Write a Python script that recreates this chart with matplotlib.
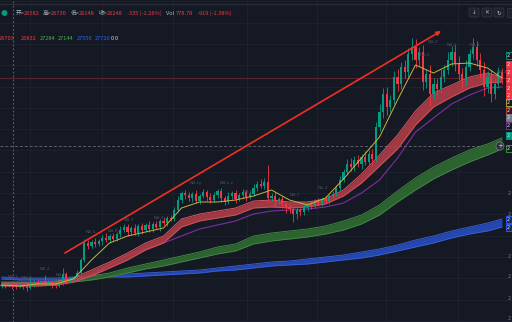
import numpy as np
import matplotlib.pyplot as plt
from matplotlib.patches import Rectangle, FancyBboxPatch, Circle

W, H = 512, 322
BG = "#151924"
GRID = "#1f2330"
UP = "#089981"
DOWN = "#f23645"
GRAY = "#b2b5be"
CJK = ["Noto Sans CJK SC", "DejaVu Sans"]

# candles, price units (open = previous close)
first_open = 36
close = [37, 36, 38, 36, 35, 37,
         35, 34, 37,
         40, 39, 41, 38, 40,
         37, 36, 38,
         48,
         41, 43,
         45, 49,
         62,
         79,
         76, 80, 78, 81,
         84, 82, 86, 83,
         88, 92, 95,
         90, 94, 89, 96, 92, 97, 93,
         98, 95, 101, 99, 104, 103,
         112, 122, 129, 127,
         124, 128, 121, 126, 130, 125, 122, 127, 131, 124, 120, 126, 129, 123, 127, 130, 125, 128,
         134, 138, 136, 140,
         124,
         126, 121, 123, 118, 115, 113,
         108, 112, 110,
         115, 118, 116, 121, 119,
         123, 121, 126, 128,
         134, 142, 150, 158, 155,
         162, 158, 165, 160, 168, 163,
         195, 210, 228, 215,
         222,
         245, 238, 255, 250,
         268, 275, 262, 270,
         240, 248, 228,
         238, 233, 245,
         252, 262, 270, 258,
         248, 242, 255,
         268, 275, 262, 252,
         235, 245, 228,
         238, 250, 244]
wick_up = [2, 1, 2, 1, 3, 2, 1, 2, 8, 2, 3, 1, 6, 2, 1, 2, 2,
           6,
           2, 2, 1, 3,
           2, 4,
           3, 2, 4, 2, 3, 5, 2, 3,
           2, 4, 3,
           3, 2, 4, 2, 3, 2, 4,
           2, 3, 2, 4, 2, 3,
           3, 4, 2, 3,
           3, 2, 4, 2, 3, 2, 4, 3, 2, 3, 2, 4, 2, 3, 2, 3, 2, 3,
           4, 3, 5, 4,
           17,
           3, 4, 2, 3, 2, 3,
           2, 3, 2,
           3, 2, 3, 2, 3,
           2, 3, 2, 3,
           3, 4, 3, 5, 6,
           4, 5, 3, 6, 4, 5,
           5, 8, 6, 7,
           5,
           6, 8, 5, 7,
           6, 9, 8, 5,
           7, 5, 9,
           6, 5, 8,
           5, 8, 6, 7,
           8, 6, 7,
           5, 9, 6, 7,
           8, 6, 7,
           6, 5, 4]
wick_dn = [2, 2, 1, 3, 2, 1, 2, 3, 1, 2, 1, 3, 2, 1, 3, 2, 1,
           1,
           3, 2, 2, 1,
           1, 2,
           3, 2, 3, 2, 4, 2, 3, 2,
           2, 3, 2,
           4, 3, 2, 3, 4, 2, 3,
           3, 2, 4, 2, 3, 2,
           2, 2, 3, 4,
           3, 4, 2, 3, 2, 4, 3, 2, 3, 4, 3, 2, 3, 4, 2, 3, 4, 2,
           2, 3, 2, 3,
           4,
           3, 5, 3, 4, 6, 4,
           8, 5, 4,
           3, 4, 3, 2, 3,
           3, 2, 3, 2,
           2, 3, 2, 3, 4,
           4, 3, 5, 3, 4, 6,
           3, 4, 6, 8,
           5,
           4, 7, 5, 6,
           5, 6, 8, 6,
           8, 6, 12,
           5, 6, 4,
           5, 4, 6, 7,
           6, 8, 5,
           4, 5, 6, 8,
           9, 6, 8,
           5, 4, 6]

# moving averages, sampled every 5 candles
ma_idx = list(range(0, 140, 5)) + [139]
ma_fast = [37, 36, 38, 38, 43, 62, 79, 86, 90, 94,
           114, 120, 120, 122, 126, 132, 122, 117, 124, 143,
           164, 185, 222, 257, 249, 258, 259, 254, 244]
red_top = [39, 39, 39, 40, 44, 52, 60, 69, 79, 86,
           103, 108, 111, 114, 121, 122, 120, 120, 123, 132,
           148, 167, 187, 211, 229, 237, 245, 249, 245]
red_bot = [36, 36, 36, 37, 40, 46, 54, 62, 72, 79,
           95, 101, 104, 107, 114, 115, 114, 115, 118, 126,
           139, 156, 173, 197, 215, 225, 234, 239, 240]
ma_purple = [38, 37, 37, 37, 40, 47, 57, 67, 73, 79,
             86, 93, 97, 101, 108, 111, 112, 113, 115, 119,
             129, 142, 164, 190, 204, 218, 227, 234, 235]
green_top = [40, 40, 40, 41, 43, 46, 49, 54, 58, 62,
             66, 70, 75, 78, 86, 89, 91, 93, 96, 101,
             107, 117, 131, 144, 155, 164, 172, 178, 184]
green_bot = [37, 37, 37, 38, 40, 42, 45, 49, 53, 56,
             60, 64, 68, 71, 78, 81, 83, 85, 88, 92,
             98, 107, 120, 132, 143, 152, 160, 167, 173]
blue_top = [45, 44, 44, 44, 45, 46, 47, 48, 49, 50,
            51, 52, 54, 56, 58, 60, 61, 63, 65, 67,
            70, 73, 77, 82, 86, 91, 95, 99, 103]
blue_bot = [43, 42, 42, 42, 43, 44, 45, 45, 46, 47,
            48, 49, 51, 52, 54, 56, 57, 58, 60, 62,
            64, 67, 71, 75, 79, 84, 88, 91, 95]

# trend line drawing (candle index, price)
trend_x = [17.6, 122.1]
trend_y = [69, 291]

header_row1 = [(16, "开=", GRAY), (24, "26582", DOWN), (43, "高=", GRAY), (51, "26730", DOWN),
               (71, "低=", GRAY), (79, "26148", DOWN), (99, "收=", GRAY), (107, "26248", DOWN),
               (127, "-335 (-1.26%)", DOWN), (166, "Vol", GRAY), (176, "778.78", DOWN),
               (197, "-919 (-1.38%)", DOWN)]
header_row2 = [(-1, "26703", DOWN), (21, "26832", DOWN), (40, "27284", "#4caf50"),
               (58, "27144", "#4caf50"), (77, "27556", "#2962ff"), (95, "27720", "#2962ff"),
               (111, "0", "#d1d4dc"), (115, "0", "#d1d4dc")]

nb_labels = [(8, 277, "NB-1"), (22, 278, "NB-2"), (40, 269, "NB-2"), (56, 275, "NB-?"),
             (86, 232, "NB-5"), (108, 231, "NB-R"), (124, 220, "NB-7"), (154, 218, "NB-7"),
             (190, 183, "NB-Ly"), (220, 183, "NB-L.z"), (243, 192, "NB-?"), (290, 195, "NB-?"),
             (318, 188, "NB-2"), (420, 55, "NB-2"), (428, 42, "NB-2"), (447, 45, "NB-2"),
             (470, 45, "NB-1"), (497, 72, "NB-2")]

right_tags = [(55, BG, UP), (64, DOWN, DOWN), (72, DOWN, DOWN), (80, DOWN, DOWN), (88, DOWN, DOWN),
              (95, DOWN, DOWN), (102, BG, "#c9b83a"), (110, "#3a1a20", DOWN), (117, "#787b86", "#787b86"),
              (125, BG, "#7e2f9e"), (135, UP, UP), (148, BG, "#43a047"),
              (219, "#1a2a5a", "#2962ff"), (227, "#1a2a5a", "#2962ff")]


def px2x(px):
    return (px - 1.5) / 3.6


fig = plt.figure(figsize=(W / 100, H / 100), dpi=100, facecolor=BG)
ax = fig.add_axes([0, 0, 1, 1], facecolor=BG)
ax.set_xlim(px2x(0), px2x(W))
ax.set_ylim(0, H)
ax.axis("off")

# grid
for h in np.arange(1.2, H, 21.3):
    ax.axhline(h, color=GRID, lw=0.6, zorder=0)
for px in [30, 102, 173, 247, 317, 386, 458]:
    ax.axvline(px2x(px), color=GRID, lw=0.6, zorder=0)

# last price line
ax.axhline(close[-1], color="#5a2630", lw=0.7, zorder=1)

# bands and averages
ax.fill_between(ma_idx, blue_bot, blue_top, color="#2447b0", lw=0, zorder=2)
ax.plot(ma_idx, blue_top, color="#3b63e0", lw=0.6, zorder=2)
ax.plot(ma_idx, blue_bot, color="#3b63e0", lw=0.5, zorder=2)
ax.fill_between(ma_idx, green_bot, green_top, color="#2c632f", lw=0, zorder=2)
ax.plot(ma_idx, green_top, color="#45904a", lw=0.6, zorder=2)
ax.plot(ma_idx, green_bot, color="#45904a", lw=0.5, zorder=2)
ax.plot(ma_idx, ma_purple, color="#7e2f9e", lw=0.8, zorder=2)
ax.fill_between(ma_idx, red_bot, red_top, color="#b8404a", alpha=0.85, lw=0, zorder=2)
ax.plot(ma_idx, red_top, color="#e86068", lw=0.6, zorder=2)
ax.plot(ma_idx, red_bot, color="#d85058", lw=0.6, zorder=2)

# candles
x = np.arange(len(close))
closes = np.array(close, dtype=float)
opens = np.array([first_open] + close[:-1], dtype=float)
highs = np.maximum(opens, closes) + np.array(wick_up)
lows = np.minimum(opens, closes) - np.array(wick_dn)
colors = np.where(closes >= opens, UP, DOWN)
ax.vlines(x, lows, highs, colors=colors, lw=0.6, zorder=3)
body = np.maximum(np.abs(closes - opens), 0.8)
ax.bar(x, body, bottom=np.minimum(opens, closes), width=0.62, color=colors, lw=0, zorder=3)

ax.plot(ma_idx, ma_fast, color="#c8b43c", lw=0.7, zorder=4)

# trend arrow
ax.annotate("", xy=(trend_x[1], trend_y[1]), xytext=(trend_x[0], trend_y[0]),
            arrowprops=dict(arrowstyle="-|>", color="#f22f22", lw=1.2,
                            mutation_scale=6, shrinkA=0, shrinkB=0), zorder=5)

# crosshair
ax.axvline(px2x(13), color="#5d606b", lw=0.7, ls=(0, (2, 2)), zorder=1)
ax.plot([px2x(0), px2x(494)], [H - 146, H - 146], color="#5d606b", lw=0.7,
        ls=(0, (3, 2)), zorder=1)

# overlay in pixel coordinates
ov = fig.add_axes([0, 0, 1, 1])
ov.set_xlim(0, W)
ov.set_ylim(H, 0)
ov.axis("off")
ov.patch.set_alpha(0)

ov.plot([0, W], [4, 4], color="#2a2e39", lw=0.8)
ov.add_patch(Circle((4.5, 13), 2.2, color=UP))

for px, txt, col in header_row1:
    ov.text(px, 13, txt, color=col, fontsize=4.1, family=CJK, va="center", ha="left")
for px, txt, col in header_row2:
    ov.text(px, 38, txt, color=col, fontsize=4.1, family=CJK, va="center", ha="left")

for px, py, txt in nb_labels:
    ov.text(px, py, txt, color="#4f5360", fontsize=3.2, va="center", ha="left")

# top-right buttons
for bx, glyph in [(469, "↓"), (482, "✕"), (494, "↻")]:
    ov.add_patch(FancyBboxPatch((bx, 8), 10, 9, boxstyle="round,pad=0,rounding_size=1.5",
                                fc="#1e222d", ec="#363a45", lw=0.5))
    ov.text(bx + 5, 12.7, glyph, color="#b2b5be", fontsize=4, ha="center", va="center")
ov.add_patch(Rectangle((507, 8), 6, 9, fc="#1e222d", ec="#363a45", lw=0.5))

# price tags on the right edge
for ty, fc, ec in right_tags:
    ov.add_patch(Rectangle((505.5, ty - 3.5), 8, 7, fc=fc, ec=ec, lw=0.6))
    ov.text(507, ty, "2", color="#e8e8e8", fontsize=3.5, va="center", ha="left")
for ty in [193, 214, 256, 277, 298, 319]:
    ov.text(508, ty, "2", color="#787b86", fontsize=3.5, va="center", ha="left")

ov.add_patch(Circle((500, 146), 4, fc="#2a2e39", ec="#787b86", lw=0.5))
ov.text(500, 146, "+", color="#d1d4dc", fontsize=5, ha="center", va="center")

fig.savefig("out.png", dpi=100, facecolor=BG)
